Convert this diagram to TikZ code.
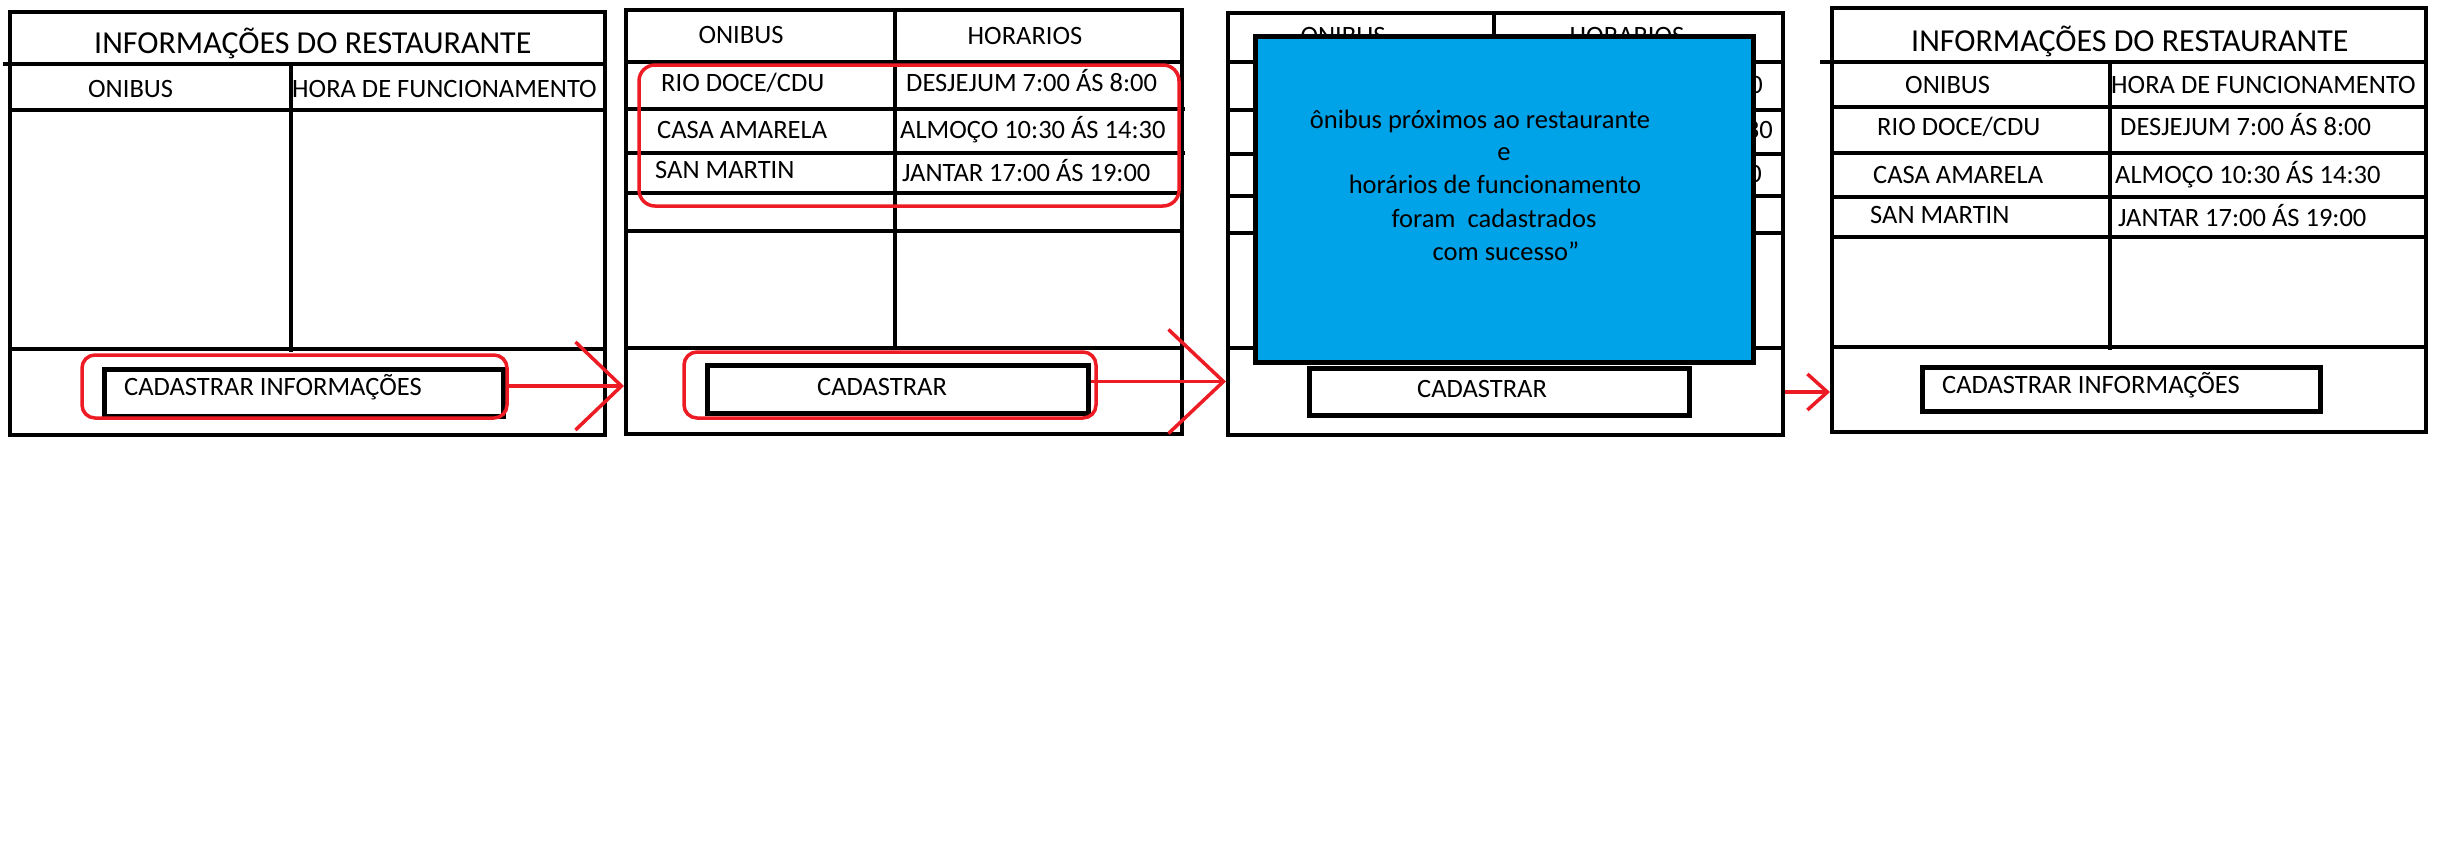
\documentclass[tikz,border=0pt]{standalone}
\usepackage{fontspec}
\setmainfont{Carlito}
\usetikzlibrary{arrows.meta}
\definecolor{pred}{HTML}{ED1C24}
\definecolor{pblue}{HTML}{00A2E8}
\begin{document}
\begin{tikzpicture}[x=1pt,y=-1pt,
  panel/.style={draw=black, line width=4pt, inner sep=0pt, anchor=north west},
  grid/.style={line width=4pt},
  btn/.style={draw=black, line width=5pt, inner sep=0pt, anchor=north west},
  txt/.style={inner sep=0pt, font=\fontsize{26.5}{30}\selectfont, anchor=base west},
  ctxt/.style={txt, anchor=base},
  etxt/.style={txt, anchor=base east},
  ttl/.style={txt, font=\fontsize{32}{36}\selectfont},
  hl/.style={draw=pred, line width=3.5pt, rounded corners=#1},
  hl/.default=13pt,
  arr/.style={draw=pred, line width=3.5pt}
]
\useasboundingbox (0,0) rectangle (2440,854);
\fill[white] (0,0) rectangle (2440,854);

% ---------- Panel 1 ----------
\node[panel, minimum width=595pt, minimum height=423pt] (p1) at (8,10) {};
\draw[grid] (3,64) -- (603,64);
\draw[grid] (8,110) -- (603,110);
\draw[grid] (8,349) -- (603,349);
\draw[grid] (291,64) -- (291,352);
\node[ttl] (t1) at (94,53) {INFORMAÇÕES DO RESTAURANTE};
\node[txt] (h1a) at (88,97) {ONIBUS};
\node[txt] (h1b) at (292,97) {HORA DE FUNCIONAMENTO};
\node[btn, minimum width=399pt, minimum height=47pt] (b1) at (102,367) {};
\node[txt] (b1t) at (124,395) {CADASTRAR INFORMAÇÕES};
\draw[hl] (82,355) rectangle (507,418);

% ---------- Panel 2 ----------
\node[panel, minimum width=556pt, minimum height=424pt] (p2) at (624,8) {};
\draw[grid] (895,8) -- (895,348);
\draw[grid] (624,62) -- (1182,62);
\draw[grid] (624,109) -- (1185,109);
\draw[grid] (624,153) -- (1185,153);
\draw[grid] (624,193) -- (1180,193);
\draw[grid] (624,231) -- (1180,231);
\draw[grid] (624,348) -- (1180,348);
\node[ctxt] (h2a) at (741,43) {ONIBUS};
\node[ctxt] (h2b) at (1025,44) {HORARIOS};
\node[txt] (r2a) at (661,91) {RIO DOCE/CDU};
\node[txt] (r2b) at (906,91) {DESJEJUM 7:00 ÁS 8:00};
\node[txt] (r2c) at (657,138) {CASA AMARELA};
\node[txt] (r2d) at (900,138) {ALMOÇO 10:30 ÁS 14:30};
\node[txt] (r2e) at (655,178) {SAN MARTIN};
\node[txt] (r2f) at (902,181) {JANTAR 17:00 ÁS 19:00};
\draw[hl=16pt] (639,65) rectangle (1179,206);
\node[btn, minimum width=381pt, minimum height=48pt] (b2) at (705,363) {};
\node[ctxt] (b2t) at (882,395) {CADASTRAR};
\draw[hl] (684,352) rectangle (1096,418);

% ---------- Panel 3 ----------
\node[panel, minimum width=555pt, minimum height=422pt] (p3) at (1226,11) {};
\draw[grid] (1494,11) -- (1494,348);
\draw[grid] (1226,62) -- (1784,62);
\draw[grid] (1226,110) -- (1784,110);
\draw[grid] (1226,154) -- (1784,154);
\draw[grid] (1226,196) -- (1781,196);
\draw[grid] (1226,233) -- (1781,233);
\draw[grid] (1226,348) -- (1781,348);
\node[ctxt] (h3a) at (1343,44) {ONIBUS};
\node[ctxt] (h3b) at (1627,44) {HORARIOS};
\node[etxt] (r3b) at (1763,93) {0};
\node[etxt] (r3d) at (1773,138) {30};
\node[etxt] (r3f) at (1762,182) {0};
\node[btn, minimum width=380pt, minimum height=47pt] (b3) at (1307,366) {};
\node[ctxt] (b3t) at (1482,397) {CADASTRAR};
\node[draw=black, line width=5pt, fill=pblue, inner sep=0pt, anchor=north west,
      minimum width=498pt, minimum height=326pt] (msg) at (1253,34) {};
\node[ctxt] (m1) at (1480,128) {ônibus próximos ao restaurante};
\node[ctxt] (m2) at (1504,160) {e};
\node[ctxt] (m3) at (1495,193) {horários de funcionamento};
\node[ctxt] (m4) at (1494,227) {foram~~cadastrados};
\node[ctxt] (m5) at (1506,260) {com sucesso”};

% ---------- Panel 4 ----------
\node[panel, minimum width=594pt, minimum height=424pt] (p4) at (1830,6) {};
\draw[grid] (1820,62) -- (2424,62);
\draw[grid] (1830,107) -- (2424,107);
\draw[grid] (1830,153) -- (2428,153);
\draw[grid] (1830,197) -- (2424,197);
\draw[grid] (1830,237) -- (2424,237);
\draw[grid] (1830,347) -- (2424,347);
\draw[grid] (2110,62) -- (2110,350);
\node[ttl] (t4) at (1911,51) {INFORMAÇÕES DO RESTAURANTE};
\node[txt] (h4a) at (1905,93) {ONIBUS};
\node[txt] (h4b) at (2111,93) {HORA DE FUNCIONAMENTO};
\node[txt] (r4a) at (1877,135) {RIO DOCE/CDU};
\node[txt] (r4b) at (2120,135) {DESJEJUM 7:00 ÁS 8:00};
\node[txt] (r4c) at (1873,183) {CASA AMARELA};
\node[txt] (r4d) at (2115,183) {ALMOÇO 10:30 ÁS 14:30};
\node[txt] (r4e) at (1870,223) {SAN MARTIN};
\node[txt] (r4f) at (2118,226) {JANTAR 17:00 ÁS 19:00};
\node[btn, minimum width=398pt, minimum height=44pt] (b4) at (1920,365) {};
\node[txt] (b4t) at (1942,393) {CADASTRAR INFORMAÇÕES};

% ---------- Arrows ----------
\draw[arr, -{Straight Barb[length=46pt,width=88pt]}]
  ([yshift=7pt]b1.east) -- ([yshift=7pt]b1.east -| p2.west);
\draw[arr, -{Straight Barb[length=55pt,width=104pt]}]
  ([yshift=8pt]b2.east) -- ([yshift=8pt]b2.east -| p3.west);
\draw[arr, -{Straight Barb[length=20pt,width=36pt]}]
  (p3.east |- b3.center) -- (p4.west |- b3.center);
\end{tikzpicture}
\end{document}
